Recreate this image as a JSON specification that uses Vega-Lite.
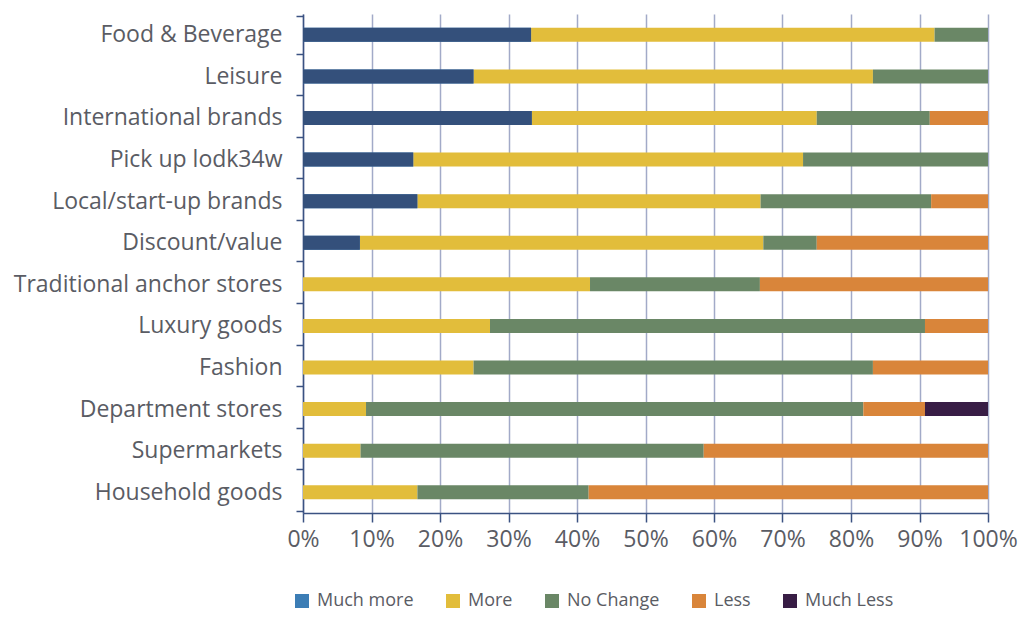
{
  "$schema": "https://vega.github.io/schema/vega-lite/v6.json",
  "width": 685,
  "height": 499,
  "autosize": "none",
  "padding": {"left": 303, "top": 14, "right": 36, "bottom": 115},
  "background": "#ffffff",
  "config": {"view": {"stroke": null}, "font": "Open Sans"},
  "data": {
    "values": [
      {"category": "Food & Beverage", "response": "Much more", "o": 1, "value": 33.3},
      {"category": "Food & Beverage", "response": "More", "o": 2, "value": 58.9},
      {"category": "Food & Beverage", "response": "No Change", "o": 3, "value": 7.8},
      {"category": "Leisure", "response": "Much more", "o": 1, "value": 24.9},
      {"category": "Leisure", "response": "More", "o": 2, "value": 58.3},
      {"category": "Leisure", "response": "No Change", "o": 3, "value": 16.8},
      {"category": "International brands", "response": "Much more", "o": 1, "value": 33.4},
      {"category": "International brands", "response": "More", "o": 2, "value": 41.6},
      {"category": "International brands", "response": "No Change", "o": 3, "value": 16.5},
      {"category": "International brands", "response": "Less", "o": 4, "value": 8.5},
      {"category": "Pick up lodk34w", "response": "Much more", "o": 1, "value": 16.1},
      {"category": "Pick up lodk34w", "response": "More", "o": 2, "value": 56.9},
      {"category": "Pick up lodk34w", "response": "No Change", "o": 3, "value": 27.0},
      {"category": "Local/start-up brands", "response": "Much more", "o": 1, "value": 16.7},
      {"category": "Local/start-up brands", "response": "More", "o": 2, "value": 50.1},
      {"category": "Local/start-up brands", "response": "No Change", "o": 3, "value": 24.9},
      {"category": "Local/start-up brands", "response": "Less", "o": 4, "value": 8.3},
      {"category": "Discount/value", "response": "Much more", "o": 1, "value": 8.3},
      {"category": "Discount/value", "response": "More", "o": 2, "value": 58.9},
      {"category": "Discount/value", "response": "No Change", "o": 3, "value": 7.8},
      {"category": "Discount/value", "response": "Less", "o": 4, "value": 25.0},
      {"category": "Traditional anchor stores", "response": "More", "o": 2, "value": 41.9},
      {"category": "Traditional anchor stores", "response": "No Change", "o": 3, "value": 24.8},
      {"category": "Traditional anchor stores", "response": "Less", "o": 4, "value": 33.3},
      {"category": "Luxury goods", "response": "More", "o": 2, "value": 27.3},
      {"category": "Luxury goods", "response": "No Change", "o": 3, "value": 63.5},
      {"category": "Luxury goods", "response": "Less", "o": 4, "value": 9.2},
      {"category": "Fashion", "response": "More", "o": 2, "value": 24.9},
      {"category": "Fashion", "response": "No Change", "o": 3, "value": 58.3},
      {"category": "Fashion", "response": "Less", "o": 4, "value": 16.8},
      {"category": "Department stores", "response": "More", "o": 2, "value": 9.2},
      {"category": "Department stores", "response": "No Change", "o": 3, "value": 72.6},
      {"category": "Department stores", "response": "Less", "o": 4, "value": 9.0},
      {"category": "Department stores", "response": "Much Less", "o": 5, "value": 9.2},
      {"category": "Supermarkets", "response": "More", "o": 2, "value": 8.4},
      {"category": "Supermarkets", "response": "No Change", "o": 3, "value": 50.1},
      {"category": "Supermarkets", "response": "Less", "o": 4, "value": 41.5},
      {"category": "Household goods", "response": "More", "o": 2, "value": 16.7},
      {"category": "Household goods", "response": "No Change", "o": 3, "value": 25.0},
      {"category": "Household goods", "response": "Less", "o": 4, "value": 58.3}
    ]
  },
  "encoding": {
    "y": {
      "field": "category",
      "type": "nominal",
      "sort": ["Food & Beverage", "Leisure", "International brands", "Pick up lodk34w", "Local/start-up brands", "Discount/value", "Traditional anchor stores", "Luxury goods", "Fashion", "Department stores", "Supermarkets", "Household goods"],
      "axis": {
        "title": null,
        "grid": false,
        "tickBand": "extent",
        "domainColor": "#3b5282",
        "domainWidth": 1.5,
        "tickColor": "#3b5282",
        "tickWidth": 1.5,
        "tickSize": 7,
        "labelPadding": 14,
        "labelLimit": 400,
        "labelFont": "Open Sans",
        "labelFontSize": 23,
        "labelColor": "#5a5c64"
      }
    },
    "x": {
      "field": "value",
      "type": "quantitative",
      "stack": "zero",
      "scale": {"domain": [0, 100]},
      "axis": {
        "title": null,
        "values": [0, 10, 20, 30, 40, 50, 60, 70, 80, 90, 100],
        "labelExpr": "datum.value + '%'",
        "labelFlush": false,
        "grid": true,
        "gridColor": "#a2aac8",
        "gridWidth": 1.5,
        "domainColor": "#3b5282",
        "domainWidth": 1.5,
        "tickColor": "#3b5282",
        "tickWidth": 1.5,
        "tickSize": 9,
        "labelPadding": 6,
        "labelFont": "Open Sans",
        "labelFontSize": 23,
        "labelColor": "#5a5c64"
      }
    }
  },
  "layer": [
    {
      "mark": {"type": "bar", "size": 14},
      "encoding": {
        "color": {
          "field": "response",
          "type": "nominal",
          "scale": {
            "domain": ["Much more", "More", "No Change", "Less", "Much Less"],
            "range": ["#3c7db5", "#e2bd3b", "#6a8766", "#d9853a", "#381d45"]
          },
          "legend": {
            "title": null,
            "orient": "none",
            "legendX": -10,
            "legendY": 578,
            "direction": "horizontal",
            "symbolType": "square",
            "symbolSize": 196,
            "symbolStrokeWidth": 0,
            "labelFont": "Open Sans",
            "labelFontSize": 18,
            "labelColor": "#5a5c64",
            "labelOffset": 6,
            "columnPadding": 30,
            "padding": 0
          }
        },
        "order": {"field": "o", "type": "quantitative"}
      }
    },
    {
      "transform": [{"filter": "datum.response === 'Much more'"}],
      "mark": {"type": "bar", "size": 14, "color": "#34507b"}
    }
  ]
}
